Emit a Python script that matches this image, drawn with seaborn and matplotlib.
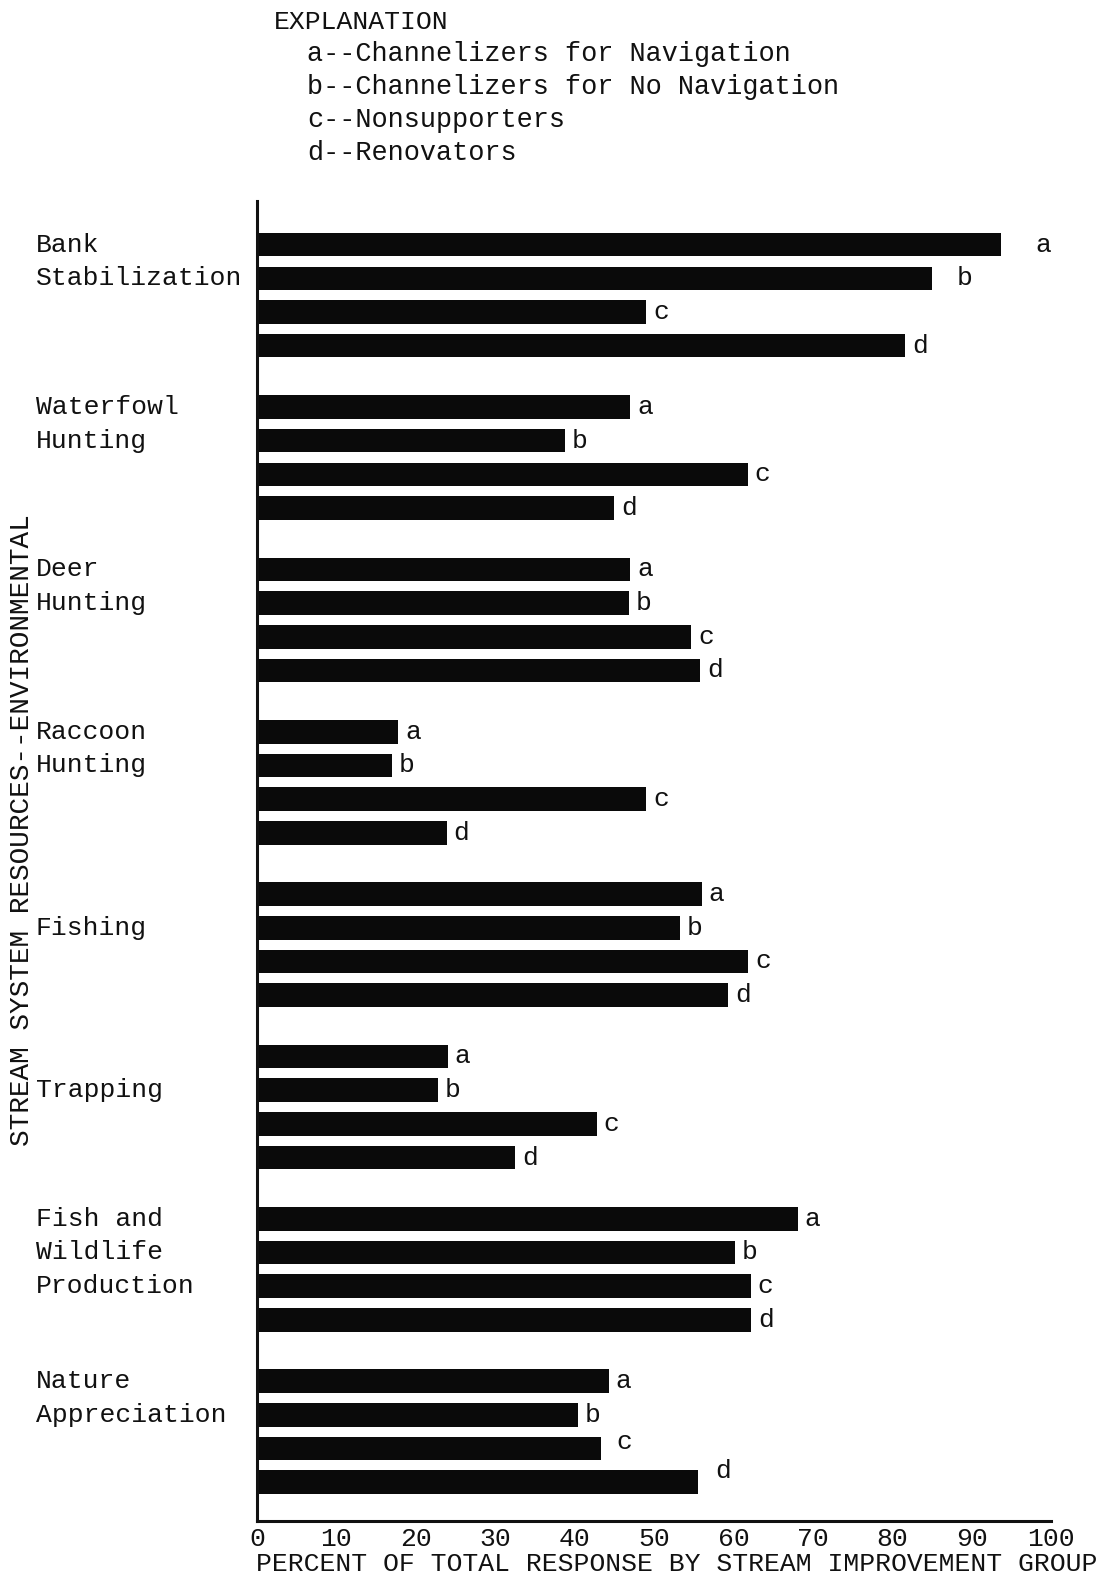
import numpy as np
import pandas as pd
import matplotlib
matplotlib.use("Agg")
import matplotlib.pyplot as plt
import matplotlib.transforms as mtransforms
import seaborn as sns

# ---- data ----
resources = ["Bank Stabilization", "Waterfowl Hunting", "Deer Hunting",
             "Raccoon Hunting", "Fishing", "Trapping",
             "Fish and Wildlife Production", "Nature Appreciation"]
resource_lines = [["Bank", "Stabilization"], ["Waterfowl", "Hunting"],
                  ["Deer", "Hunting"], ["Raccoon", "Hunting"], ["Fishing"],
                  ["Trapping"], ["Fish and", "Wildlife", "Production"],
                  ["Nature", "Appreciation"]]
groups = ["a", "b", "c", "d"]
group_names = ["Channelizers for Navigation", "Channelizers for No Navigation",
               "Nonsupporters", "Renovators"]
vals_a = [93.7, 47.0, 47.0, 17.8, 56.0, 24.0, 68.1, 44.3]
vals_b = [85.0, 38.8, 46.8, 17.0, 53.3, 22.8, 60.2, 40.4]
vals_c = [49.0, 61.8, 54.7, 49.0, 61.9, 42.8, 62.2, 43.3]
vals_d = [81.6, 45.0, 55.8, 23.9, 59.3, 32.5, 62.2, 55.5]
xticks = [0, 10, 20, 30, 40, 50, 60, 70, 80, 90, 100]

df = pd.DataFrame({
    "resource": resources * 4,
    "group": sum([[g] * len(resources) for g in groups], []),
    "value": vals_a + vals_b + vals_c + vals_d,
})

sns.set_theme(style="white")
FONT = ["Liberation Mono", "DejaVu Sans Mono"]
plt.rcParams["font.family"] = FONT
FS = 19
INK = "#111111"

fig = plt.figure(figsize=(10.99, 15.79), dpi=100)
ax = fig.add_axes([257 / 1099, 1 - 1521 / 1579, (1051 - 257) / 1099, (1521 - 201) / 1579])

W = 0.83
sns.barplot(data=df, x="value", y="resource", hue="group", order=resources,
            hue_order=groups, palette=["#0a0a0a"] * 4, width=W, gap=0.30,
            orient="h", legend=False, ax=ax, saturation=1, edgecolor="none")

ax.set_xlim(0, 100)
ax.set_ylim(7.55, -0.58)
ax.set_xticks(xticks)
ax.set_xticklabels([str(t) for t in xticks], fontsize=FS, color=INK)
ax.set_yticks([])
ax.set_ylabel("")
ax.set_xlabel("PERCENT OF TOTAL RESPONSE BY STREAM IMPROVEMENT GROUP",
              fontsize=FS, color=INK, labelpad=1)
ax.xaxis.label.set_x(0.528)
for s in ["top", "right"]:
    ax.spines[s].set_visible(False)
for s in ["left", "bottom"]:
    ax.spines[s].set_color(INK)
    ax.spines[s].set_linewidth(2.2)
ax.tick_params(axis="x", direction="inout", length=6, width=3, color=INK, pad=1)
ax.tick_params(axis="y", length=0)

# bar letters
extra = {("a", 0): (20, 0), ("b", 0): (13, 0), ("c", 7): (6, 5), ("d", 7): (8, 8)}
for cont, g in zip(ax.containers, groups):
    anns = ax.bar_label(cont, labels=[g] * len(resources), padding=5,
                        fontsize=FS, color=INK, family=FONT)
    for i, ann in enumerate(anns):
        dx, dy = extra.get((g, i), (0, 0))
        ann.xyann = (5 + dx, dy)

# category labels
slot = W / 4
trans = mtransforms.blended_transform_factory(fig.transFigure, ax.transData)
for i, lines in enumerate(resource_lines):
    start = 1 if len(lines) == 1 else 0
    for k, line in enumerate(lines):
        y = i + (start + k - 1.5) * slot
        fig.text(36 / 1099, y, line, transform=trans, fontsize=FS,
                 ha="left", va="center", color=INK, family=FONT)

fig.text(22 / 1099, 1 - 830 / 1579, "STREAM SYSTEM RESOURCES--ENVIRONMENTAL",
         rotation=90, ha="center", va="center", fontsize=20,
         color=INK, family=FONT)

# explanation
fig.text(274 / 1099, 1 - 22 / 1579, "EXPLANATION", fontsize=FS, ha="left",
         va="center", color=INK, family=FONT)
for k, (g, n) in enumerate(zip(groups, group_names)):
    fig.text(307 / 1099, 1 - (54 + 33 * k) / 1579, f"{g}--{n}", fontsize=FS + 0.4,
             ha="left", va="center", color=INK, family=FONT)

fig.savefig("out.png", dpi=100, facecolor="white")
